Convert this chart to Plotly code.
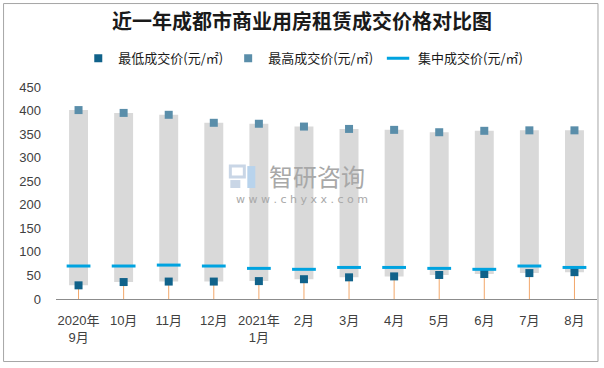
import plotly.graph_objects as go

categories = ["2020年<br>9月", "10月", "11月", "12月", "2021年<br>1月", "2月",
              "3月", "4月", "5月", "6月", "7月", "8月"]
min_price = [29, 36, 37, 37, 38, 42, 46, 48, 51, 53, 55, 57]
max_price = [401, 395, 391, 374, 372, 366, 361, 359, 354, 357, 358, 358]
center_price = [70, 70, 72, 70, 65, 63, 67, 67, 65, 63, 70, 67]

W, H = 604, 368
ML, MR, MT, MB = 55.5, 7, 86.7, 68.7
PW = W - ML - MR
PH = H - MT - MB


def px(x):
    return (x - ML) / PW


def py(y):
    return (H - MB - y) / PH


FONT = "Liberation Sans, Noto Sans CJK SC, sans-serif"
CJK = "Noto Sans CJK SC, sans-serif"

fig = go.Figure()

fig.add_trace(go.Bar(
    x=categories,
    y=[hi - lo for hi, lo in zip(max_price, min_price)],
    base=min_price,
    marker=dict(color="#D9D9D9", line=dict(width=0)),
    showlegend=False,
    hoverinfo="skip",
))

fig.add_trace(go.Scatter(
    x=categories, y=min_price, mode="markers",
    name="最低成交价(元/㎡)",
    marker=dict(symbol="square", size=8, color="#10628A"),
    error_y=dict(type="data", symmetric=False, array=[0] * len(min_price),
                 arrayminus=min_price, width=0, thickness=1, color="#F2A76A"),
))

fig.add_trace(go.Scatter(
    x=categories, y=max_price, mode="markers",
    name="最高成交价(元/㎡)",
    marker=dict(symbol="square", size=8, color="#5A8EAA"),
))

fig.add_trace(go.Scatter(
    x=categories, y=center_price, mode="markers",
    name="集中成交价(元/㎡)",
    marker=dict(symbol="line-ew", size=17, color="#00A3E0",
                line=dict(color="#00A3E0", width=3)),
))

shapes = [
    dict(type="rect", xref="paper", yref="paper",
         x0=px(3), x1=px(598), y0=py(362), y1=py(3),
         line=dict(color="#A6A6A6", width=1), fillcolor="rgba(0,0,0,0)", layer="below"),
    # watermark logo (approximation)
    dict(type="rect", xref="paper", yref="paper",
         x0=px(230), x1=px(244), y0=py(177), y1=py(166),
         line=dict(color="#C9D6E6", width=3), fillcolor="rgba(0,0,0,0)"),
    dict(type="rect", xref="paper", yref="paper",
         x0=px(230), x1=px(240), y0=py(188), y1=py(180),
         line=dict(width=0), fillcolor="#C9D6E6"),
    dict(type="rect", xref="paper", yref="paper",
         x0=px(247), x1=px(255), y0=py(188), y1=py(166),
         line=dict(width=0), fillcolor="#B8D3EC"),
]

annotations = [
    dict(text="智研咨询", xref="paper", yref="paper", x=px(317), y=py(175),
         showarrow=False, font=dict(family=CJK, size=24, color="#A8A8A8"),
         xanchor="center", yanchor="middle"),
    dict(text="w w w . c h y x x . c o m", xref="paper", yref="paper",
         x=px(302), y=py(200), showarrow=False,
         font=dict(family="DejaVu Sans, sans-serif", size=11, color="#A8A8A8"),
         xanchor="center", yanchor="middle"),
]

fig.update_layout(
    width=W, height=H,
    margin=dict(l=ML, r=MR, t=MT, b=MB, autoexpand=False),
    paper_bgcolor="white", plot_bgcolor="white",
    bargap=0.58,
    title=dict(text="<b>近一年成都市商业用房租赁成交价格对比图</b>",
               x=0.5, xref="container", xanchor="center",
               y=1 - 22 / H, yref="container", yanchor="middle",
               font=dict(family=CJK, size=20, color="#1A1A1A")),
    legend=dict(orientation="h", x=px(303), xanchor="center",
                y=py(58), yanchor="middle",
                font=dict(family=CJK, size=13, color="#1A1A1A"),
                bgcolor="rgba(0,0,0,0)", itemwidth=30, tracegroupgap=0),
    font=dict(family=FONT, size=13, color="#404040"),
    xaxis=dict(range=[-0.5, len(categories) - 0.5], autorange=False,
               showgrid=False, showline=True, linecolor="#8C8C8C", linewidth=1,
               ticks="", ticklabelstandoff=9,
               tickfont=dict(family=FONT, size=13, color="#404040"),
               automargin=False, fixedrange=True),
    yaxis=dict(range=[0, 450], dtick=50, showgrid=False, showline=False,
               zeroline=False, ticks="", ticklabelstandoff=14,
               tickfont=dict(family=FONT, size=13, color="#404040"),
               automargin=False, fixedrange=True),
    shapes=shapes,
    annotations=annotations,
    showlegend=True,
)

fig.write_html("out.html", config={"displayModeBar": False},
               post_script="document.body.style.margin='0px';document.body.style.padding='0px';")
